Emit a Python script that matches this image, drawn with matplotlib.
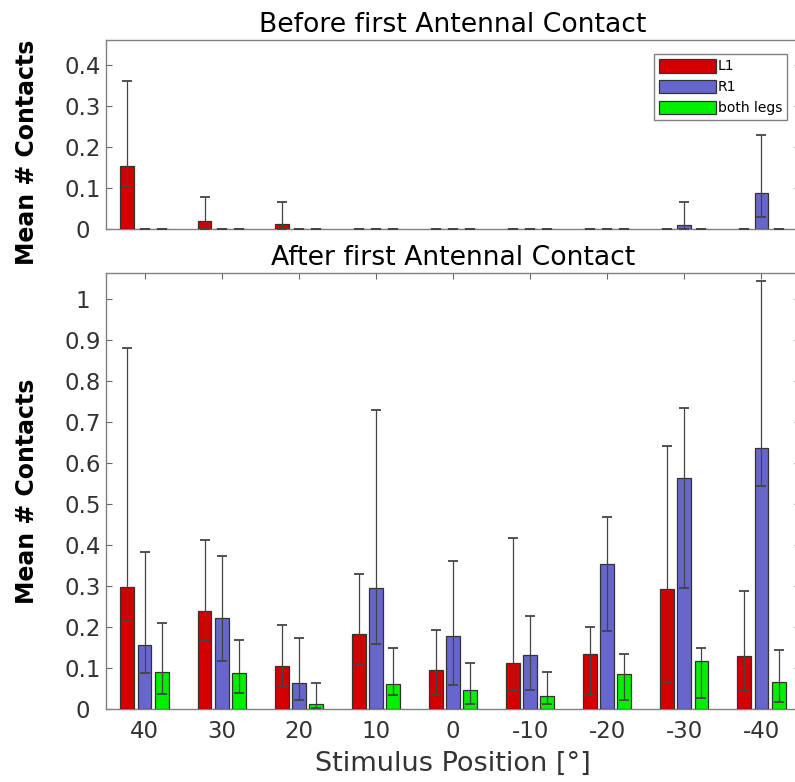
import matplotlib.pyplot as plt
import numpy as np

plt.rcParams['font.family'] = ['DejaVu Sans']

positions = ['40', '30', '20', '10', '0', '-10', '-20', '-30', '-40']
series = ['L1', 'R1', 'both legs']
colors = ['#d40000', '#6666cc', '#00f000']

# before first antennal contact: mean, lower and upper error bar ends
before_l1 = [0.153, 0.020, 0.011, 0, 0, 0, 0, 0, 0]
before_l1_lo = [0.104, 0.0, 0.0, 0, 0, 0, 0, 0, 0]
before_l1_hi = [0.362, 0.078, 0.065, 0, 0, 0, 0, 0, 0]
before_r1 = [0, 0, 0, 0, 0, 0, 0, 0.010, 0.089]
before_r1_lo = [0, 0, 0, 0, 0, 0, 0, 0.0, 0.029]
before_r1_hi = [0, 0, 0, 0, 0, 0, 0, 0.067, 0.229]
before_both = [0, 0, 0, 0, 0, 0, 0, 0, 0]
before_both_lo = [0, 0, 0, 0, 0, 0, 0, 0, 0]
before_both_hi = [0, 0, 0, 0, 0, 0, 0, 0, 0]

# after first antennal contact
after_l1 = [0.297, 0.238, 0.106, 0.183, 0.096, 0.111, 0.134, 0.293, 0.128]
after_l1_lo = [0.214, 0.167, 0.055, 0.107, 0.035, 0.046, 0.034, 0.067, 0.044]
after_l1_hi = [0.881, 0.412, 0.206, 0.328, 0.192, 0.416, 0.201, 0.641, 0.288]
after_r1 = [0.156, 0.223, 0.064, 0.295, 0.178, 0.131, 0.354, 0.564, 0.636]
after_r1_lo = [0.087, 0.116, 0.022, 0.159, 0.058, 0.046, 0.190, 0.294, 0.543]
after_r1_hi = [0.383, 0.373, 0.174, 0.728, 0.361, 0.226, 0.469, 0.734, 1.044]
after_both = [0.089, 0.087, 0.011, 0.061, 0.046, 0.032, 0.086, 0.116, 0.067]
after_both_lo = [0.036, 0.040, 0.002, 0.033, 0.012, 0.012, 0.023, 0.028, 0.016]
after_both_hi = [0.209, 0.168, 0.064, 0.148, 0.113, 0.090, 0.135, 0.148, 0.144]

before = [(before_l1, before_l1_lo, before_l1_hi),
          (before_r1, before_r1_lo, before_r1_hi),
          (before_both, before_both_lo, before_both_hi)]
after = [(after_l1, after_l1_lo, after_l1_hi),
         (after_r1, after_r1_lo, after_r1_hi),
         (after_both, after_both_lo, after_both_hi)]

fig = plt.figure(figsize=(7.95, 7.82), dpi=100)
ax1 = fig.add_axes([106 / 795, 1 - 229 / 782, 694 / 795, 189 / 782])
ax2 = fig.add_axes([106 / 795, 1 - 709 / 782, 694 / 795, 436 / 782])

x = np.arange(1, len(positions) + 1)
width = 0.18
offsets = [-0.222, 0.0, 0.222]


def draw(ax, groups, label_y):
    for (mean, lo, hi), off, col, name in zip(groups, offsets, colors, series):
        mean = np.array(mean, dtype=float)
        lo = np.array(lo, dtype=float)
        hi = np.array(hi, dtype=float)
        ax.bar(x + off, mean, width, color=col, edgecolor='#333333',
               linewidth=0.9, label=name, zorder=3)
        # zero-size error bars still leave their caps on the baseline
        ax.errorbar(x + off, mean, yerr=[mean - lo, hi - mean],
                    fmt='none', ecolor='#444444', elinewidth=0.9, capsize=3.5,
                    capthick=1.3, zorder=4, clip_on=False)
    ax.set_xlim(0.5, len(positions) + 0.5)
    ax.set_xticks(x)
    for s in ax.spines.values():
        s.set_color('#808080')
        s.set_linewidth(1.0)
    ax.tick_params(direction='in', top=True, right=True, length=4,
                   color='#666666', labelsize=16.5, labelcolor='#333333')
    ax.tick_params(axis='y', pad=17)
    ax.tick_params(axis='x', pad=8)
    ax.set_ylabel('Mean # Contacts', fontsize=17, fontweight='bold')
    ax.yaxis.set_label_coords(-0.097, label_y)


draw(ax1, before, 0.407)
ax1.set_ylim(0, 0.461)
ax1.set_yticks(np.arange(0, 0.41, 0.1))
ax1.set_yticklabels(['0', '0.1', '0.2', '0.3', '0.4'], ha='center')
ax1.set_xticklabels([])
ax1.tick_params(axis='x', length=0)
ax1.set_title('Before first Antennal Contact', fontsize=19.2, pad=6)
leg = ax1.legend(loc='upper right', bbox_to_anchor=(787 / 795, 1 - 54 / 782),
                 bbox_transform=fig.transFigure, borderaxespad=0,
                 fontsize=10, handlelength=4.1, handleheight=1.15,
                 labelspacing=0.45, handletextpad=0.15, borderpad=0.35,
                 fancybox=False, framealpha=1, edgecolor='#808080')
leg.get_frame().set_linewidth(1.0)

draw(ax2, after, 0.5)
ax2.set_ylim(0, 1.063)
ax2.set_yticks(np.arange(0, 1.01, 0.1))
ax2.set_yticklabels(['0', '0.1', '0.2', '0.3', '0.4', '0.5', '0.6', '0.7',
                     '0.8', '0.9', '1'], ha='center')
ax2.set_xticklabels(positions)
ax2.set_title('After first Antennal Contact', fontsize=19.2, pad=6)
ax2.set_xlabel('Stimulus Position [°]', fontsize=19.5, color='#333333',
               labelpad=6)

fig.savefig('out.png', dpi=100)
